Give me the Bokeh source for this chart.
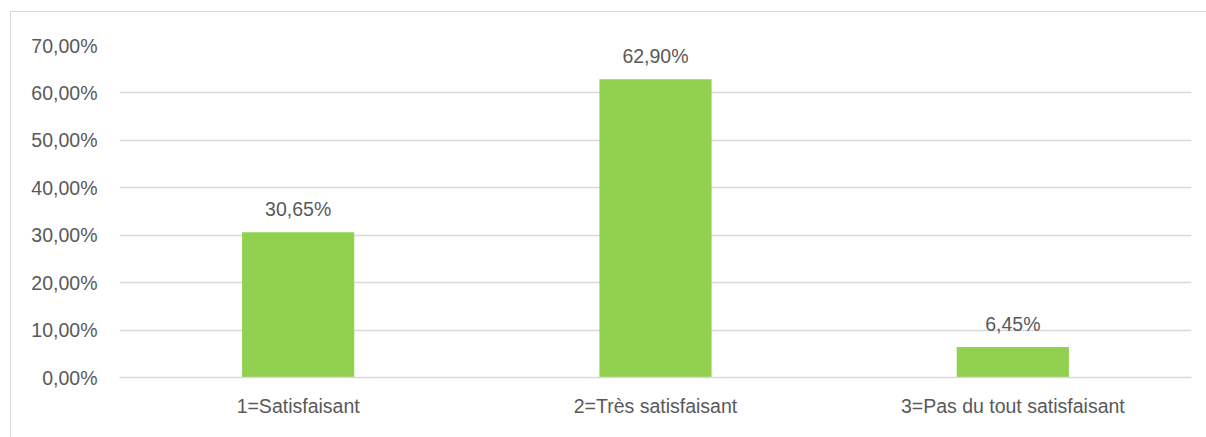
from bokeh.plotting import figure
from bokeh.models import ColumnDataSource, FixedTicker, LabelSet, FactorRange
from bokeh.core.properties import value
from bokeh.embed import file_html
from bokeh.resources import INLINE

categories = ["1=Satisfaisant", "2=Très satisfaisant", "3=Pas du tout satisfaisant"]
values = [0.3065, 0.6290, 0.0645]
y_ticks = [0.0, 0.1, 0.2, 0.3, 0.4, 0.5, 0.6, 0.7]

FONT = "Liberation Sans"
TXT = "#595959"
FS = "19.5px"

def pct(v):
    return f"{v*100:.2f}".replace(".", ",") + "%"

src = ColumnDataSource(dict(cat=categories, val=values, lab=[pct(v) for v in values]))

p = figure(x_range=FactorRange(*categories, range_padding=0), y_range=(0, 0.7),
           width=1196, height=426, output_backend="svg", toolbar_location=None,
           min_border_left=108, min_border_right=16, min_border_top=33, min_border_bottom=61,
           outline_line_color=None,
           styles={"border-left": "1px solid #d9d9d9", "border-top": "1px solid #d9d9d9",
                   "margin-left": "10px", "margin-top": "11px"})

p.vbar(x="cat", top="val", width=0.314, source=src, fill_color="#92D050", line_color=None)

p.add_layout(LabelSet(x="cat", y="val", text="lab", source=src, y_offset=16,
                      text_align="center", text_baseline="alphabetic",
                      text_font=value(FONT), text_font_size=value(FS), text_color=TXT))

p.yaxis.ticker = FixedTicker(ticks=y_ticks)
p.yaxis.major_label_overrides = {t: pct(t) for t in y_ticks}
p.yaxis.axis_line_color = None
p.yaxis.major_tick_line_color = None
p.yaxis.minor_tick_line_color = None
p.yaxis.major_label_standoff = 16
p.yaxis.major_label_text_font = FONT
p.yaxis.major_label_text_font_size = FS
p.yaxis.major_label_text_color = TXT

p.xaxis.axis_line_color = "#d9d9d9"
p.xaxis.axis_line_width = 1.5
p.xaxis.major_tick_line_color = None
p.xaxis.minor_tick_line_color = None
p.xaxis.major_label_standoff = 11
p.xaxis.major_label_text_font = FONT
p.xaxis.major_label_text_font_size = FS
p.xaxis.major_label_text_color = TXT

p.xgrid.grid_line_color = None
p.ygrid.grid_line_color = "#d9d9d9"
p.ygrid.grid_line_width = 1.5

open("out.html", "w").write(file_html(p, INLINE))
